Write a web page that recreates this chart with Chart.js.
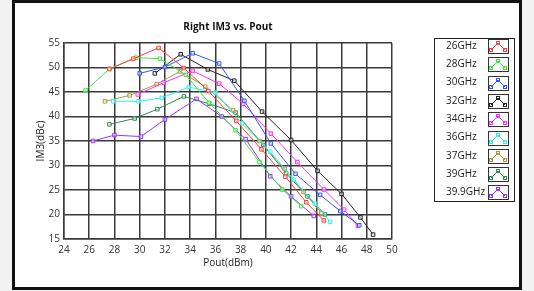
<!DOCTYPE html>
<html>
<head>
<meta charset="utf-8">
<script src="https://cdn.jsdelivr.net/npm/chart.js@4.4.1/dist/chart.umd.min.js"></script>
<style>
  html, body { margin: 0; padding: 0; background: #f2f2f2; }
  #wrap { position: relative; width: 534px; height: 291px; overflow: hidden; }
  #frame { position: absolute; left: 12px; top: 0px; width: 504px; height: 284px; border: 3px solid #111; background: #fff; }
  #c { position: absolute; left: 0; top: 0; }
</style>
</head>
<body>
<div id="wrap">
  <div id="frame"></div>
  <canvas id="c" width="534" height="291"></canvas>
</div>
<script>
// --- DATA ---
const freqLabels = ["26GHz", "28GHz", "30GHz", "32GHz", "34GHz", "36GHz", "37GHz", "39GHz", "39.9GHz"];
const xTicks = [24, 26, 28, 30, 32, 34, 36, 38, 40, 42, 44, 46, 48, 50];
const yTicks = [15, 20, 25, 30, 35, 40, 45, 50, 55];

const pout26 = [27.6, 29.5, 31.5, 33.5, 35.45, 37.65, 39.65, 41.55, 43.2, 44.6];
const im3_26 = [49.7, 51.8, 54.0, 49.9, 45.2, 39.1, 33.3, 27.7, 22.5, 18.8];

const pout28 = [25.7, 27.6, 29.7, 31.6, 33.65, 35.5, 37.6, 39.5, 41.3, 42.8];
const im3_28 = [45.3, 49.7, 52.0, 51.8, 48.5, 42.8, 37.2, 30.7, 25.1, 21.7];

const pout30 = [30.0, 32.0, 34.2, 36.3, 38.3, 40.4, 42.35, 44.3, 45.9, 47.4];
const im3_30 = [48.8, 50.1, 52.9, 50.8, 43.2, 34.5, 28.3, 24.0, 20.7, 17.8];

const pout32 = [31.2, 33.25, 35.4, 37.5, 39.7, 42.0, 44.1, 46.0, 47.5, 48.5];
const im3_32 = [48.8, 52.7, 49.6, 47.3, 41.0, 35.2, 28.9, 24.2, 19.4, 15.9];

const pout34 = [29.85, 31.9, 34.2, 36.3, 38.2, 40.4, 42.5, 44.6, 46.2, 47.3];
const im3_34 = [44.5, 46.9, 49.3, 46.7, 42.6, 36.5, 30.7, 25.1, 21.0, 17.7];

const pout36 = [27.9, 29.9, 31.75, 33.9, 36.0, 38.1, 40.35, 42.2, 43.9, 45.1];
const im3_36 = [43.1, 43.1, 43.8, 46.0, 44.9, 38.6, 32.8, 27.1, 22.2, 18.5];

const pout37 = [27.25, 29.2, 31.35, 33.2, 35.2, 37.4, 39.5, 41.5, 43.0, 44.4];
const im3_37 = [43.1, 44.3, 46.6, 49.2, 46.1, 41.3, 35.0, 29.3, 24.6, 20.3];

const pout39 = [27.6, 29.6, 31.4, 33.5, 35.5, 37.6, 39.8, 41.6, 43.3, 44.7];
const im3_39 = [38.4, 39.6, 41.5, 44.1, 42.6, 40.8, 34.2, 28.4, 23.7, 20.0];

const pout399 = [26.3, 28.0, 30.1, 32.0, 34.5, 36.5, 38.4, 40.35, 42.0, 43.8];
const im3_399 = [35.0, 36.2, 35.9, 39.4, 43.6, 40.0, 35.4, 27.8, 23.7, 19.7];

const poutSeries = [pout26, pout28, pout30, pout32, pout34, pout36, pout37, pout39, pout399];
const im3Series = [im3_26, im3_28, im3_30, im3_32, im3_34, im3_36, im3_37, im3_39, im3_399];
const colors = ["#ff3c3c", "#3ee83e", "#3355ff", "#222222", "#ff2eff", "#2ef0f0", "#a89a3c", "#2e8b57", "#9933ff"];

const FONT = "'Open Sans', 'DejaVu Sans', sans-serif";

const datasets = freqLabels.map((name, i) => ({
    label: name,
    data: poutSeries[i].map((x, j) => ({ x: x, y: im3Series[i][j] })),
    borderColor: colors[i],
    backgroundColor: colors[i],
    borderWidth: 1,
    pointStyle: "rect",
    pointRadius: 2.5,
    pointBorderWidth: 1,
    pointBorderColor: colors[i],
    pointBackgroundColor: "rgba(255,255,255,0.5)",
    tension: 0
}));

// title, axis titles and the legend box drawn on the canvas
const decorPlugin = {
    id: "decor",
    afterDraw(chart) {
        const ctx = chart.ctx;
        const area = chart.chartArea;
        ctx.save();
        ctx.fillStyle = "#111";
        ctx.font = "bold 10px " + FONT;
        ctx.textAlign = "center";
        ctx.textBaseline = "middle";
        ctx.fillText("Right IM3 vs. Pout", 228, 27);

        ctx.font = "10px " + FONT;
        ctx.fillStyle = "#222";
        ctx.fillText("Pout(dBm)", (area.left + area.right) / 2, 263);
        ctx.translate(41, (area.top + area.bottom) / 2);
        ctx.rotate(-Math.PI / 2);
        ctx.fillText("IM3(dBc)", 0, 0);
        ctx.restore();

        // legend
        ctx.save();
        const lx = 434, ly = 38, lw = 80, lh = 163;
        ctx.strokeStyle = "#222";
        ctx.lineWidth = 1;
        ctx.strokeRect(lx + 0.5, ly + 0.5, lw, lh);
        ctx.font = "10px " + FONT;
        ctx.textBaseline = "middle";
        ctx.textAlign = "left";
        freqLabels.forEach((name, i) => {
            const cy = 46 + i * 18.3;
            ctx.fillStyle = "#222";
            ctx.fillText(name, 446, cy);
            const bx = 488, by = Math.round(cy - 7);
            ctx.strokeStyle = "#333";
            ctx.strokeRect(bx + 0.5, by + 0.5, 20, 14);
            ctx.strokeStyle = colors[i];
            ctx.beginPath();
            ctx.moveTo(bx + 3, by + 11);
            ctx.lineTo(bx + 10, by + 4);
            ctx.lineTo(bx + 17, by + 11);
            ctx.stroke();
            [[bx + 3, by + 11], [bx + 10, by + 4], [bx + 17, by + 11]].forEach(p => {
                ctx.strokeRect(p[0] - 1.5, p[1] - 1.5, 3, 3);
            });
        });
        ctx.restore();
    }
};

new Chart(document.getElementById("c"), {
    type: "line",
    data: { datasets: datasets },
    options: {
        responsive: false,
        animation: false,
        layout: { padding: { left: 0, top: 43, right: 142, bottom: 22 } },
        plugins: {
            legend: { display: false },
            title: { display: false },
            tooltip: { enabled: false }
        },
        scales: {
            x: {
                type: "linear",
                min: 24,
                max: 50,
                afterBuildTicks: (s) => { s.ticks = xTicks.map(v => ({ value: v })); },
                afterFit: (s) => { s.height = 30; },
                grid: { color: "#3a3a3a", lineWidth: 1.5, drawTicks: false },
                border: { color: "#3a3a3a", width: 1.5 },
                ticks: { color: "#333", font: { size: 10, family: FONT }, padding: 5, maxRotation: 0 }
            },
            y: {
                type: "linear",
                min: 15,
                max: 55,
                afterBuildTicks: (s) => { s.ticks = yTicks.map(v => ({ value: v })); },
                afterFit: (s) => { s.width = 64; },
                grid: { color: "#3a3a3a", lineWidth: 1.5, drawTicks: false },
                border: { color: "#3a3a3a", width: 1.5 },
                ticks: { color: "#333", font: { size: 10, family: FONT }, padding: 4 }
            }
        }
    },
    plugins: [decorPlugin]
});
</script>
</body>
</html>
